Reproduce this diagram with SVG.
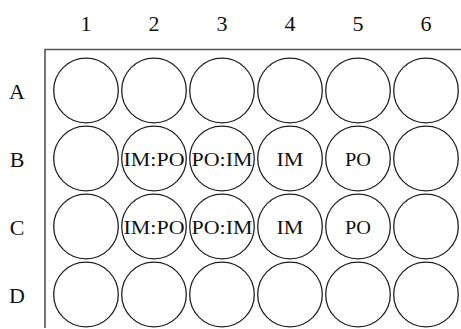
<svg xmlns="http://www.w3.org/2000/svg" width="461" height="329" viewBox="0 0 461 329">
<style>
.w{fill:#fff;stroke:#222;stroke-width:1.3}
.lab{font-family:"Liberation Serif",serif;font-size:22px;fill:#111;text-anchor:middle}
.wl{font-family:"Liberation Serif",serif;font-size:19px;fill:#111;text-anchor:middle}
.f{stroke:#555;stroke-width:1.6;fill:none}
</style>
<rect width="461" height="329" fill="#fff"/>
<g id="frame">
<path class="f" d="M45,328 V49.5 H461"/>
</g>
<g id="col-labels">
<text class="lab" x="86" y="30.5">1</text>
<text class="lab" x="154" y="30.5">2</text>
<text class="lab" x="222" y="30.5">3</text>
<text class="lab" x="290" y="30.5">4</text>
<text class="lab" x="358" y="30.5">5</text>
<text class="lab" x="426" y="30.5">6</text>
</g>
<g id="row-labels">
<text class="lab" x="17" y="99" font-size="23">A</text>
<text class="lab" x="17" y="167" font-size="23">B</text>
<text class="lab" x="17" y="235" font-size="23">C</text>
<text class="lab" x="17" y="303" font-size="23">D</text>
</g>
<g id="A1"><circle class="w" cx="86" cy="90.5" r="32.3"/></g>
<g id="A2"><circle class="w" cx="154" cy="90.5" r="32.3"/></g>
<g id="A3"><circle class="w" cx="222" cy="90.5" r="32.3"/></g>
<g id="A4"><circle class="w" cx="290" cy="90.5" r="32.3"/></g>
<g id="A5"><circle class="w" cx="358" cy="90.5" r="32.3"/></g>
<g id="A6"><circle class="w" cx="426" cy="90.5" r="32.3"/></g>
<g id="B1"><circle class="w" cx="86" cy="158.5" r="32.3"/></g>
<g id="B2"><circle class="w" cx="154" cy="158.5" r="32.3"/><text class="wl" x="154" y="165.5" textLength="61" lengthAdjust="spacingAndGlyphs">IM:PO</text></g>
<g id="B3"><circle class="w" cx="222" cy="158.5" r="32.3"/><text class="wl" x="222" y="165.5" textLength="61" lengthAdjust="spacingAndGlyphs">PO:IM</text></g>
<g id="B4"><circle class="w" cx="290" cy="158.5" r="32.3"/><text class="wl" x="290" y="165.5" textLength="27" lengthAdjust="spacingAndGlyphs">IM</text></g>
<g id="B5"><circle class="w" cx="358" cy="158.5" r="32.3"/><text class="wl" x="358" y="165.5" textLength="26" lengthAdjust="spacingAndGlyphs">PO</text></g>
<g id="B6"><circle class="w" cx="426" cy="158.5" r="32.3"/></g>
<g id="C1"><circle class="w" cx="86" cy="226.5" r="32.3"/></g>
<g id="C2"><circle class="w" cx="154" cy="226.5" r="32.3"/><text class="wl" x="154" y="233.5" textLength="61" lengthAdjust="spacingAndGlyphs">IM:PO</text></g>
<g id="C3"><circle class="w" cx="222" cy="226.5" r="32.3"/><text class="wl" x="222" y="233.5" textLength="61" lengthAdjust="spacingAndGlyphs">PO:IM</text></g>
<g id="C4"><circle class="w" cx="290" cy="226.5" r="32.3"/><text class="wl" x="290" y="233.5" textLength="27" lengthAdjust="spacingAndGlyphs">IM</text></g>
<g id="C5"><circle class="w" cx="358" cy="226.5" r="32.3"/><text class="wl" x="358" y="233.5" textLength="26" lengthAdjust="spacingAndGlyphs">PO</text></g>
<g id="C6"><circle class="w" cx="426" cy="226.5" r="32.3"/></g>
<g id="D1"><circle class="w" cx="86" cy="294.5" r="32.3"/></g>
<g id="D2"><circle class="w" cx="154" cy="294.5" r="32.3"/></g>
<g id="D3"><circle class="w" cx="222" cy="294.5" r="32.3"/></g>
<g id="D4"><circle class="w" cx="290" cy="294.5" r="32.3"/></g>
<g id="D5"><circle class="w" cx="358" cy="294.5" r="32.3"/></g>
<g id="D6"><circle class="w" cx="426" cy="294.5" r="32.3"/></g>
<g id="connectors"/>
</svg>
